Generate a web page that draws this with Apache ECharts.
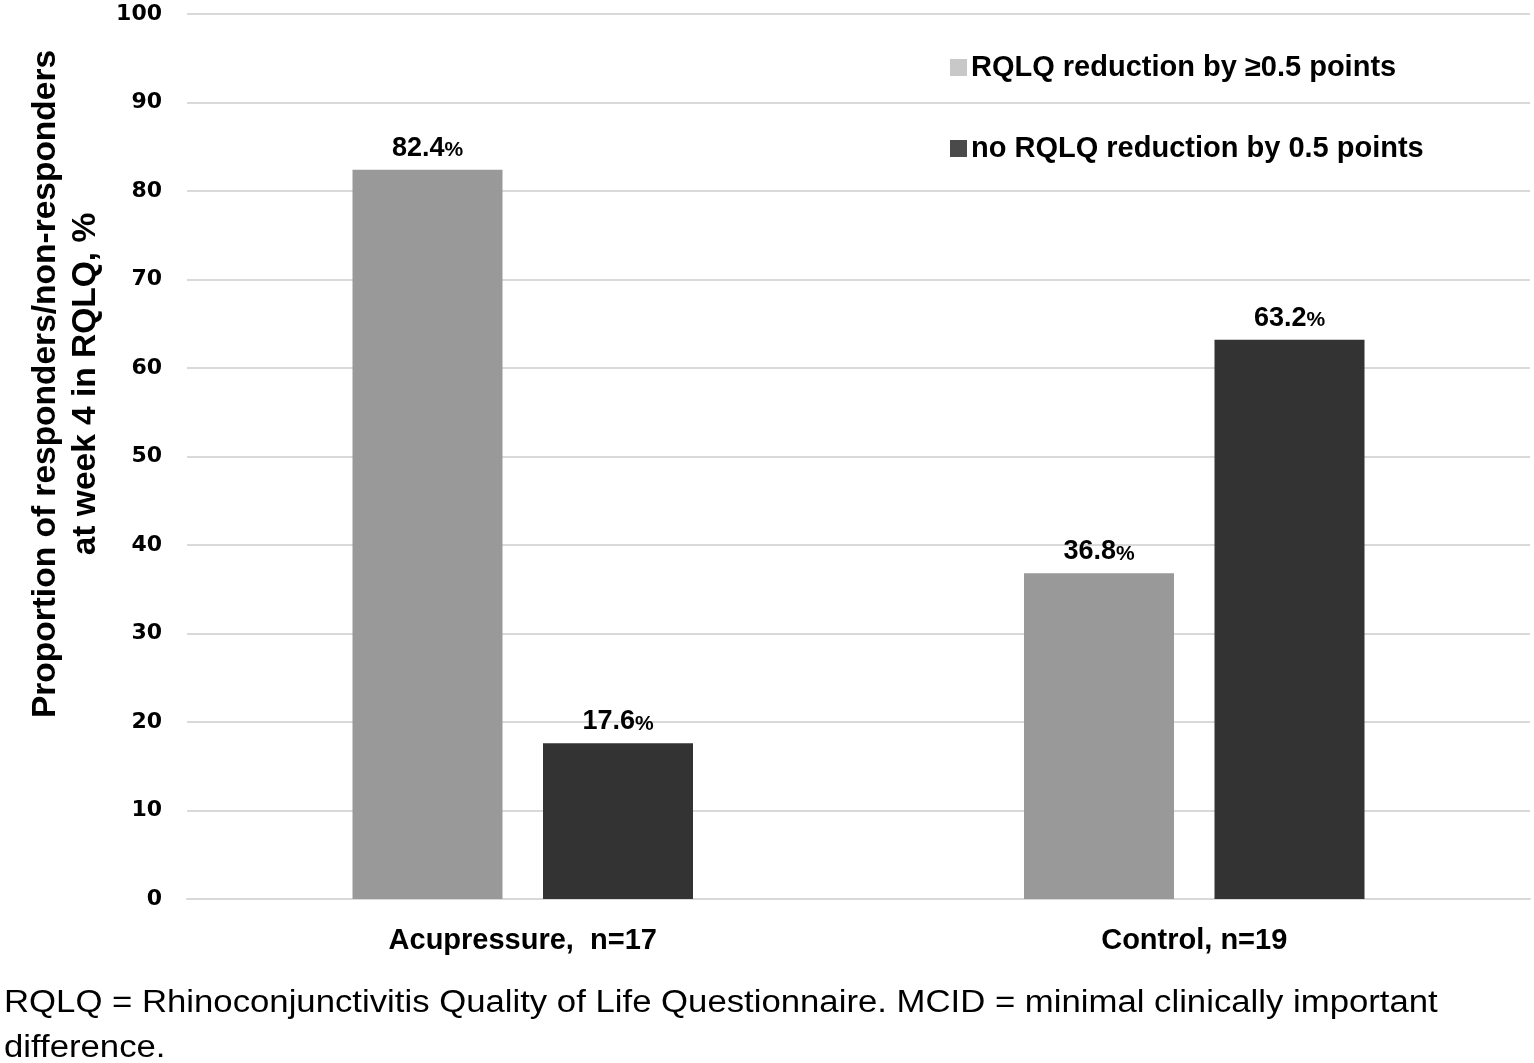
<!DOCTYPE html>
<html><head><meta charset="utf-8">
<style>html,body{margin:0;padding:0;background:#fff}#c{width:1534px;height:1063px}</style>
<script src="https://cdn.jsdelivr.net/npm/echarts@6/dist/echarts.min.js"></script>
</head><body><div id="c"></div>
<script>
const categories = ['Acupressure,  n=17', 'Control, n=19'];
const seriesNames = ['RQLQ reduction by \u22650.5 points', 'no RQLQ reduction by 0.5 points'];
const responders = [82.4, 36.8];
const nonResponders = [17.6, 63.2];
const yTicks = [0, 10, 20, 30, 40, 50, 60, 70, 80, 90, 100];

const chart = echarts.init(document.getElementById('c'));
const F = 'Liberation Sans, Arial, sans-serif';
const lbl = {
  show: true, position: 'top', distance: 8,
  formatter: p => '{n|' + p.value.toFixed(1) + '}{p|%}',
  rich: {
    n: {fontFamily: F, fontWeight: 'bold', fontSize: 27, color: '#000'},
    p: {fontFamily: F, fontWeight: 'bold', fontSize: 21, color: '#000', verticalAlign: 'bottom', padding: [0,0,1,0]}
  }
};
chart.setOption({
  animation: false,
  grid: {left: 187, right: 4, top: 14, bottom: 164},
  legend: {
    orient: 'vertical', left: 945, top: 48, itemGap: 52,
    itemWidth: 17, itemHeight: 17, icon: 'rect',
    textStyle: {fontFamily: F, fontWeight: 'bold', fontSize: 29, color: '#000', padding: [0,0,0,-1]},
    data: [
      {name: seriesNames[0], itemStyle: {color: '#c8c8c8'}},
      {name: seriesNames[1], itemStyle: {color: '#4a4a4a'}}
    ]
  },
  xAxis: {
    type: 'category', data: categories,
    axisLine: {lineStyle: {color: '#d9d9d9', width: 2}},
    axisTick: {show: false},
    axisLabel: {fontFamily: F, fontWeight: 'bold', fontSize: 29, color: '#000', margin: 27}
  },
  yAxis: {
    type: 'value', min: 0, max: 100, interval: 10,
    axisLine: {show: false}, axisTick: {show: false},
    splitLine: {lineStyle: {color: '#d9d9d9', width: 2}},
    axisLabel: {fontFamily: 'DejaVu Sans, Verdana, sans-serif', fontWeight: 'bold', fontSize: 22, color: '#000', margin: 25,
      formatter: v => yTicks.includes(v) ? String(v) : ''}
  },
  graphic: [
    {type: 'text', rotation: Math.PI/2, x: 66, y: 384,
      style: {text: 'Proportion of responders/non-responders\nat week 4 in RQLQ, %', fontFamily: F, fontWeight: 'bold',
        fontSize: 33.5, lineHeight: 40, fill: '#000', align: 'center', verticalAlign: 'middle'}},
    {type: 'text', x: 4, y: 981, scaleX: 1.12,
      style: {text: 'RQLQ = Rhinoconjunctivitis Quality of Life Questionnaire. MCID = minimal clinically important\ndifference.',
        fontFamily: F, fontSize: 31, lineHeight: 45, fill: '#000'}}
  ],
  series: [
    {name: seriesNames[0], type: 'bar', data: responders, barWidth: 150, barGap: '27%',
      itemStyle: {color: '#999999'}, label: lbl},
    {name: seriesNames[1], type: 'bar', data: nonResponders, barWidth: 150,
      itemStyle: {color: '#333333'}, label: lbl}
  ]
});
</script></body></html>
